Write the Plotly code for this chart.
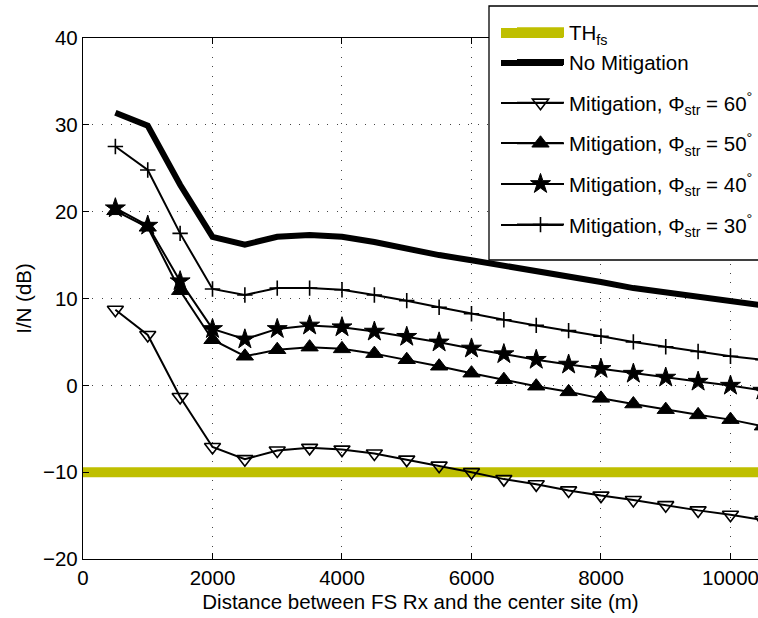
import plotly.graph_objects as go

distances = [500, 1000, 1500, 2000, 2500, 3000, 3500, 4000, 4500, 5000, 5500,
             6000, 6500, 7000, 7500, 8000, 8500, 9000, 9500, 10000, 10500]
no_mitigation = [31.4, 29.9, 23.1, 17.1, 16.2, 17.1, 17.3, 17.1, 16.5, 15.7, 15.0,
                 14.4, 13.8, 13.1, 12.5, 11.9, 11.2, 10.7, 10.2, 9.8, 9.2]
mit60 = [8.7, 5.8, -1.35, -7.1, -8.5, -7.5, -7.2, -7.4, -7.85, -8.55, -9.25,
         -10.0, -10.8, -11.4, -12.1, -12.7, -13.2, -13.8, -14.4, -14.9, -15.5]
mit50 = [20.1, 18.2, 10.9, 5.25, 3.35, 4.1, 4.4, 4.2, 3.65, 2.95, 2.2,
         1.4, 0.65, -0.1, -0.75, -1.5, -2.15, -2.8, -3.4, -3.95, -4.7]
mit40 = [20.4, 18.4, 12.0, 6.5, 5.3, 6.5, 6.9, 6.7, 6.2, 5.6, 4.95,
         4.25, 3.6, 2.95, 2.4, 1.9, 1.35, 0.9, 0.43, -0.03, -0.6]
mit30 = [27.5, 24.8, 17.5, 11.1, 10.4, 11.2, 11.2, 11.0, 10.4, 9.75, 9.0,
         8.25, 7.55, 6.9, 6.3, 5.65, 5.0, 4.45, 3.9, 3.35, 2.95]
threshold = -10
th_x = [0, 10500]

FONT = "Liberation Sans, Arial, sans-serif"
FS = 20.5
YEL = "rgb(191,191,0)"

fig = go.Figure()
fig.add_trace(go.Scatter(x=th_x, y=[threshold] * len(th_x), mode="lines",
                         line=dict(color=YEL, width=10), name="TH<sub>fs</sub>",
                         legendgroup="a"))
fig.add_trace(go.Scatter(x=distances, y=no_mitigation, mode="lines",
                         line=dict(color="black", width=6), name="No Mitigation",
                         legendgroup="a"))
fig.add_trace(go.Scatter(x=distances, y=mit60, mode="lines+markers",
                         line=dict(color="black", width=2),
                         marker=dict(symbol="triangle-down-open", size=14, color="black",
                                     line=dict(width=1.6, color="black")),
                         name="Mitigation, Φ<sub>str</sub> = 60<sup>°</sup>", legendgroup="c"))
fig.add_trace(go.Scatter(x=distances, y=mit50, mode="lines+markers",
                         line=dict(color="black", width=2),
                         marker=dict(symbol="triangle-up", size=15, color="black",
                                     line=dict(width=1, color="black")),
                         name="Mitigation, Φ<sub>str</sub> = 50<sup>°</sup>", legendgroup="d"))
fig.add_trace(go.Scatter(x=distances, y=mit40, mode="lines+markers",
                         line=dict(color="black", width=2),
                         marker=dict(symbol="star", size=15, color="black",
                                     line=dict(width=1, color="black")),
                         name="Mitigation, Φ<sub>str</sub> = 40<sup>°</sup>", legendgroup="e"))
fig.add_trace(go.Scatter(x=distances, y=mit30, mode="lines+markers",
                         line=dict(color="black", width=2),
                         marker=dict(symbol="cross-thin", size=11, color="black",
                                     line=dict(width=1.6, color="black")),
                         name="Mitigation, Φ<sub>str</sub> = 30<sup>°</sup>", legendgroup="f"))

L, R, T, B = 83, 0, 38, 59
W, H = 758, 618
pw = W - L - R
ph = H - T - B


def px_x(p):
    return (p - L) / pw


def px_y(p):
    return (H - B - p) / ph


# legend frame (extends past the right edge as in the reference)
fig.add_shape(type="rect", xref="paper", yref="paper",
              x0=px_x(489), x1=px_x(800), y0=px_y(260), y1=px_y(6),
              fillcolor="white", line=dict(color="black", width=1.3), layer="above")

# longer legend sample lines, as drawn in the reference legend
legend_rows = [(33, YEL, 10), (63, "black", 6), (103, "black", 2),
               (143, "black", 2), (184, "black", 2), (225, "black", 2)]
for yy, col, wd in legend_rows:
    fig.add_shape(type="line", xref="paper", yref="paper",
                  x0=px_x(501), x1=px_x(563), y0=px_y(yy), y1=px_y(yy),
                  line=dict(color=col, width=wd), layer="above")

fig.update_layout(
    width=W, height=H,
    margin=dict(l=L, r=R, t=T, b=B),
    paper_bgcolor="white", plot_bgcolor="white",
    font=dict(family=FONT, size=FS, color="black"),
    showlegend=True,
    legend=dict(
        x=px_x(512), y=px_y(6), xanchor="left", yanchor="top",
        bgcolor="rgba(0,0,0,0)", borderwidth=0,
        font=dict(family=FONT, size=FS, color="black"),
        itemwidth=47, tracegroupgap=11, traceorder="grouped",
        title=dict(text=" ", font=dict(size=5)),
    ),
    xaxis=dict(
        range=[0, 10425], tickmode="linear", tick0=0, dtick=2000, tickformat="d",
        ticklabeloverflow="allow",
        showgrid=True, gridcolor="#444", gridwidth=1, griddash="1px,8.4px",
        showline=True, linecolor="black", linewidth=1.3, mirror="ticks",
        ticks="inside", ticklen=6, tickcolor="black", tickwidth=1,
        zeroline=False, tickfont=dict(size=FS),
        title=dict(text="Distance between FS Rx and the center site (m)", standoff=6,
                   font=dict(size=FS)),
    ),
    yaxis=dict(
        range=[-20, 40], tickmode="linear", tick0=-20, dtick=10,
        showgrid=True, gridcolor="#444", gridwidth=1, griddash="1px,8.4px",
        showline=True, linecolor="black", linewidth=1.3,
        ticks="inside", ticklen=6, tickcolor="black", tickwidth=1,
        zeroline=False, tickfont=dict(size=FS),
        title=dict(text="I/N (dB)", standoff=5, font=dict(size=FS)),
    ),
)

fig.write_html("out.html")
